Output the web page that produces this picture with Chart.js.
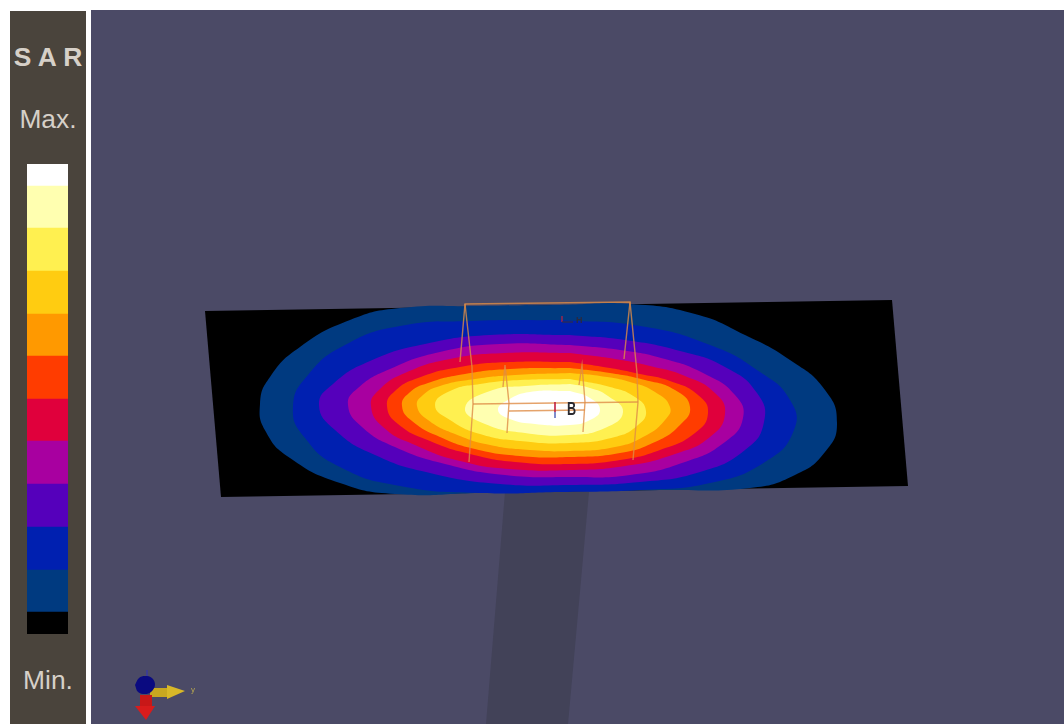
<!DOCTYPE html>
<html>
<head>
<meta charset="utf-8">
<title>SAR</title>
<script src="https://cdn.jsdelivr.net/npm/chart.js@4/dist/chart.umd.min.js"></script>
<style>
  html, body { margin: 0; padding: 0; background: #fff; width: 1064px; height: 724px; overflow: hidden; }
  #panel { position: absolute; left: 10px; top: 11px; width: 76px; height: 713px; background: #4a443c; }
  .lbl { position: absolute; left: 10px; width: 76px; text-align: center; color: #d6d0c8; font: 26.4px "Liberation Sans", Arial, sans-serif; line-height: 30px; }
  #main { position: absolute; left: 91px; top: 10px; filter: blur(0.6px); }
  #scale { position: absolute; left: 27px; top: 164px; }
  .mark { position: absolute; font-family: "Liberation Sans", sans-serif; font-weight: bold; filter: blur(0.4px); transform-origin: 0 0; }
</style>
</head>
<body>
<div id="panel"></div>
<div class="lbl" style="top:42px;font-weight:bold">S A R</div>
<div class="lbl" style="top:104px">Max.</div>
<div class="lbl" style="top:665px">Min.</div>
<canvas id="scale" width="41" height="470"></canvas>
<canvas id="main" width="973" height="714"></canvas>
<div class="mark" style="left:567px;top:399px;font-size:18px;line-height:20px;color:#2a2a30;transform:scaleX(0.7)">B</div>
<div class="mark" style="left:576px;top:315px;font-size:9px;line-height:10px;color:#2a2a40">H</div>
<div class="mark" style="left:191px;top:685px;font-size:8px;line-height:10px;font-weight:normal;color:#b8a850">y</div>
<script>
// legend bands, bottom to top
const scaleLabels = ["SAR"];
const scaleValues = [22, 42, 43, 43, 43, 42, 43, 42, 43, 43, 42, 22];
const scaleColors = ["#000000", "#003a80", "#0020b0", "#5500bb", "#a800a0", "#e0003c",
  "#ff3c00", "#ff9900", "#ffcc11", "#fff050", "#ffffb0", "#ffffff"];

// plate and its shadow
const plate = [[205, 311], [892, 300], [908, 486], [221, 497], [205, 311]];
const stem = [[505, 492], [589, 492], [568, 724], [486, 724], [505, 492]];

// iso-SAR contours, low to high
const band1 = [[560, 305], [480, 306], [400, 308], [350, 320], [300, 347], [270, 377], [260, 404], [266, 432], [290, 458], [340, 483], [395, 494], [480, 493], [570, 491], [660, 490], [750, 488], [795, 475], [825, 452], [837, 423], [825, 390], [790, 360], [745, 335], [695, 314], [630, 304], [560, 305]];
const band2 = [[560, 320], [470, 321], [400, 326], [345, 345], [308, 375], [293, 407], [305, 438], [340, 467], [400, 486], [480, 493], [560, 492], [640, 490], [710, 483], [765, 462], [794, 430], [790, 400], [760, 372], [710, 345], [640, 326], [560, 320]];
const band3 = [[570, 335], [490, 335], [425, 344], [370, 361], [333, 384], [319, 405], [335, 430], [375, 455], [430, 473], [500, 484], [570, 485], [640, 482], [700, 472], [745, 450], [764, 422], [757, 393], [725, 367], [680, 351], [625, 340], [570, 335]];
const band4 = [[570, 345], [500, 344], [440, 352], [390, 369], [358, 388], [348, 405], [362, 427], [395, 447], [445, 464], [505, 475], [570, 477], [630, 475], [685, 462], [725, 442], [743, 418], [735, 395], [705, 374], [665, 359], [620, 350], [570, 345]];
const band5 = [[570, 353], [505, 353], [450, 359], [405, 373], [379, 390], [371, 406], [383, 427], [415, 445], [460, 461], [510, 469], [570, 470], [625, 466], [675, 454], [710, 437], [725, 414], [715, 393], [685, 376], [650, 366], [615, 359], [570, 353]];
const band6 = [[570, 362], [510, 362], [460, 367], [418, 378], [395, 391], [387, 406], [398, 424], [430, 441], [470, 454], [515, 462], [570, 464], [620, 460], [660, 450], [695, 433], [708, 413], [698, 395], [670, 381], [640, 374], [610, 368], [570, 362]];
const band7 = [[570, 368], [510, 369], [465, 374], [428, 383], [409, 393], [402, 406], [412, 421], [440, 437], [475, 449], [520, 456], [570, 457], [620, 453], [655, 442], [680, 425], [690, 407], [675, 390], [645, 380], [610, 373], [570, 368]];
const band8 = [[570, 373], [515, 375], [475, 379], [440, 386], [423, 395], [417, 406], [428, 420], [455, 434], [490, 445], [530, 450], [570, 451], [615, 447], [645, 436], [665, 420], [670, 407], [655, 392], [630, 382], [600, 376], [570, 373]];
const band9 = [[570, 379], [520, 380], [480, 384], [450, 391], [435, 405], [450, 420], [480, 434], [520, 441], [570, 443], [615, 437], [638, 425], [646, 411], [635, 397], [610, 387], [570, 379]];
const band10 = [[570, 384], [525, 386], [490, 391], [465, 408], [485, 424], [525, 433], [570, 435], [605, 428], [623, 412], [608, 396], [590, 388], [570, 384]];
const band11 = [[570, 391], [530, 392], [508, 400], [498, 410], [510, 419], [535, 424], [570, 425], [590, 420], [600, 410], [590, 398], [570, 391]];
const bandColors = ["#003a80", "#0020b0", "#5500bb", "#a800a0", "#e0003c", "#ff3c00", "#ff9900", "#ffcc11", "#fff050", "#ffffb0", "#ffffff"];

// wire frame of the antenna
const frameOuter = [[460, 362], [465, 304], [630, 302], [624, 359]];
const frameLeft = [[465, 304], [472, 367], [473, 404], [469, 462]];
const frameRight = [[630, 302], [637, 373], [638, 402], [633, 460]];
const frameMid = [[473, 404], [638, 402]];
const innerLeft = [[503, 387], [505, 365], [509, 403], [507, 433]];
const innerRight = [[579, 385], [582, 365], [585, 402], [583, 432]];
const innerMid = [[509, 411], [585, 410]];

// small markers
const feedRed = [[555, 402], [555, 412]];
const feedBlue = [[555, 412], [555, 418]];
const cornerRed = [[562, 316], [562, 322]];
const cornerDark = [[562, 322], [573, 322]];

// orientation triad
const axisYShaft = [[150, 688], [167, 688], [167, 697], [150, 697], [150, 688]];
const axisYCone = [[167, 685], [185, 691], [167, 699], [167, 685]];
const axisXShaft = [[140, 695], [152, 695], [152, 707], [140, 707], [140, 695]];
const axisXCone = [[135, 706], [155, 706], [146, 720], [135, 706]];
const axisZBlob = [[135, 685], [139, 678], [145, 676], [152, 678], [155, 685], [151, 692], [145, 694], [138, 692], [135, 685]];
const axisZTip = [[147, 670], [147, 678]];

const pts = a => a.map(p => ({ x: p[0], y: p[1] }));

function shape(points, color, tension) {
  return { data: pts(points), showLine: true, fill: "shape", backgroundColor: color, borderColor: color, borderWidth: 0, pointRadius: 0, tension: tension };
}
function wire(points, color, width) {
  return { data: pts(points), showLine: true, fill: false, borderColor: color, borderWidth: width, pointRadius: 0, tension: 0 };
}

const bands = [band1, band2, band3, band4, band5, band6, band7, band8, band9, band10, band11];
const frameColor = "rgba(222,140,70,0.8)";

// listed in paint order
const layers = [
  shape(stem, "#424258", 0),
  shape(plate, "#000000", 0)
].concat(
  bands.map((b, i) => shape(b, bandColors[i], 0.5)),
  [frameOuter, frameLeft, frameRight, frameMid, innerLeft, innerRight, innerMid].map(f => wire(f, frameColor, 1.4)),
  [
    wire(feedRed, "#c02040", 1.6), wire(feedBlue, "#6070c0", 1.6),
    wire(cornerRed, "#c02040", 1.2), wire(cornerDark, "#303048", 1.2),
    shape(axisYShaft, "#c8a820", 0), shape(axisYCone, "#d8b828", 0),
    shape(axisXShaft, "#c81818", 0), shape(axisXCone, "#d81c1c", 0),
    wire(axisZTip, "#3a3aa0", 1.5),
    shape(axisZBlob, "#0a0a80", 0.4)
  ]
);
layers.forEach((l, i) => { l.order = layers.length - i; });

new Chart(document.getElementById("main"), {
  type: "scatter",
  data: { datasets: layers },
  plugins: [{
    id: "bg",
    beforeDraw(c) { c.ctx.fillStyle = "#4b4a66"; c.ctx.fillRect(0, 0, c.width, c.height); }
  }],
  options: {
    responsive: false,
    animation: false,
    devicePixelRatio: 1,
    layout: { padding: 0 },
    plugins: { legend: { display: false }, tooltip: { enabled: false } },
    scales: {
      x: { type: "linear", min: 91, max: 1064, display: false },
      y: { type: "linear", min: 10, max: 724, reverse: true, display: false }
    }
  }
});

new Chart(document.getElementById("scale"), {
  type: "bar",
  data: {
    labels: scaleLabels,
    datasets: scaleValues.map((v, i) => ({ data: [v], backgroundColor: scaleColors[i], barPercentage: 1, categoryPercentage: 1, borderWidth: 0 }))
  },
  options: {
    responsive: false,
    animation: false,
    devicePixelRatio: 1,
    layout: { padding: 0 },
    plugins: { legend: { display: false }, tooltip: { enabled: false } },
    scales: {
      x: { stacked: true, display: false },
      y: { stacked: true, display: false, min: 0, max: 470 }
    }
  }
});
</script>
</body>
</html>
